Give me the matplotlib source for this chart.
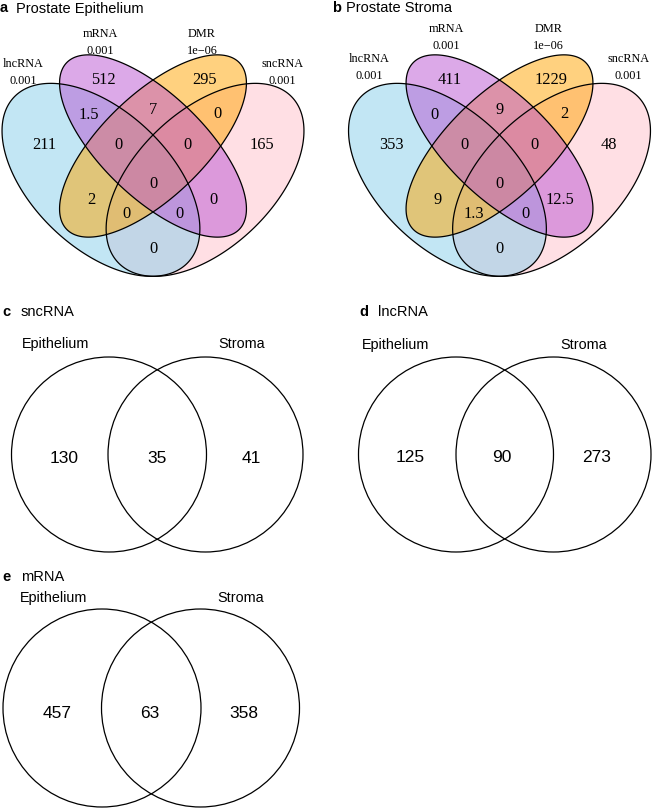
import numpy as np
import matplotlib.pyplot as plt
from matplotlib.patches import Circle

# four-set venn data (a: epithelium, b: stroma)
set_names = ['lncRNA', 'mRNA', 'DMR', 'sncRNA']
set_pvals = ['0.001', '0.001', '1e\u221206', '0.001']
region_keys = ['lnc', 'mRNA', 'DMR', 'snc',
               'lnc&mRNA', 'mRNA&DMR', 'DMR&snc',
               'lnc&mRNA&DMR', 'mRNA&DMR&snc', 'all',
               'lnc&DMR', 'mRNA&snc',
               'lnc&DMR&snc', 'lnc&mRNA&snc', 'lnc&snc']
epi_counts = [211, 512, 295, 165, 1.5, 7, 0, 0, 0, 0, 2, 0, 0, 0, 0]
stroma_counts = [353, 411, 1229, 48, 0, 9, 2, 0, 0, 0, 9, 12.5, 1.3, 0, 0]

# two-set venn data (c, d, e)
pair_letters = ['c', 'd', 'e']
pair_titles = ['sncRNA', 'lncRNA', 'mRNA']
pair_sets = ['Epithelium', 'Stroma']
pair_counts = [[130, 35, 41], [125, 90, 273], [457, 63, 358]]

W, H = 657, 808
PX = 100 / 72
SERIF = 'Liberation Serif'
SANS = 'Liberation Sans'

fig = plt.figure(figsize=(W / 100, H / 100), dpi=100)
ax = fig.add_axes([0, 0, 1, 1])
ax.set_xlim(0, W)
ax.set_ylim(H, 0)
ax.axis('off')


def put(x, yc, s, size, family):
    # yc is the visual middle of the digits / capitals
    ax.text(x, yc + 0.35 * size * PX, s, fontsize=size, family=family,
            ha='center', va='baseline')


def title(x, y, letter, s, gap):
    ax.text(x, y, letter, fontsize=10.5, family=SANS, weight='bold', va='baseline')
    ax.text(x + gap, y, s, fontsize=10.5, family=SANS, va='baseline')


# ---- four-set ellipse venn (unit layout like VennDiagram) ----
ELL = {'lncRNA': (0.35, 0.47, 0.35, 0.20, -45, 'skyblue'),
       'mRNA': (0.50, 0.57, 0.35, 0.15, -45, 'mediumorchid'),
       'DMR': (0.50, 0.57, 0.35, 0.15, 45, 'orange'),
       'sncRNA': (0.65, 0.47, 0.35, 0.20, 45, 'pink')}
draw_order = ['sncRNA', 'lncRNA', 'DMR', 'mRNA']
REGION_POS = [(0.188, 0.579), (0.357, 0.771), (0.648, 0.771), (0.815, 0.579),
              (0.314, 0.667), (0.500, 0.682), (0.686, 0.670),
              (0.400, 0.579), (0.600, 0.579), (0.500, 0.464),
              (0.322, 0.416), (0.675, 0.416),
              (0.425, 0.375), (0.575, 0.375), (0.500, 0.272)]
CAT_POS = [(0.125, 0.815), (0.348, 0.904), (0.641, 0.904), (0.872, 0.815)]
SX, SY, CY = 347, 338.5, 212


def quad(cx, counts, dy):
    def to_px(u, v):
        return cx + (u - 0.5) * SX, CY - (v - 0.375) * SY

    t = np.linspace(0, 2 * np.pi, 400)
    lines = []
    for name in draw_order:
        u0, v0, a, b, ang, col = ELL[name]
        th = np.radians(ang)
        u = u0 + a * np.cos(t) * np.cos(th) - b * np.sin(t) * np.sin(th)
        v = v0 + a * np.cos(t) * np.sin(th) + b * np.sin(t) * np.cos(th)
        x, y = to_px(u, v)
        ax.fill(x, y, color=col, alpha=0.5, lw=0)
        lines.append((x, y))
    for x, y in lines:
        ax.fill(x, y, fill=False, edgecolor='black', lw=0.9)
    for (u, v), n in zip(REGION_POS, counts):
        x, y = to_px(u, v)
        put(x, y, f'{n:g}', 11.8, SERIF)
    for (u, v), name, p in zip(CAT_POS, set_names, set_pvals):
        x, y = to_px(u, v)
        put(x, y - dy, name, 8.8, SERIF)
        put(x, y - dy + 17, p, 8.8, SERIF)


title(0, 12.5, 'a', 'Prostate Epithelium', 16)
quad(153, epi_counts, 0)
title(332, 12.5, 'b', 'Prostate Stroma', 14)
quad(499.5, stroma_counts, 5.5)

# ---- two-set circle venns ----
pair_layout = [  # (title x, title y, left cx, right cx, cy, r, label y, number y)
    (2, 316, 109, 205.5, 454.5, 97.5, 342.5, 456.5),
    (359, 316, 456, 553.5, 454.5, 97.5, 343.5, 456.0),
    (2, 581, 102, 200.5, 708, 99, 596.5, 711.5),
]
label_x = [(55.5, 242), (395.7, 583.5), (54, 241)]
num_x = [(64.5, 157.5, 251.7), (410.5, 502, 597), (57.5, 149.7, 244)]

for i, (tx, ty, lx, rx, cy, r, ly, ny) in enumerate(pair_layout):
    title(tx, ty, pair_letters[i], pair_titles[i], 19)
    for c in (lx, rx):
        ax.add_patch(Circle((c, cy), r, fill=False, edgecolor='black', lw=0.9))
    for x, s in zip(label_x[i], pair_sets):
        put(x, ly, s, 10.4, SANS)
    for x, n in zip(num_x[i], pair_counts[i]):
        put(x, ny, str(n), 12.5, SANS)

fig.savefig('out.png', dpi=100)
